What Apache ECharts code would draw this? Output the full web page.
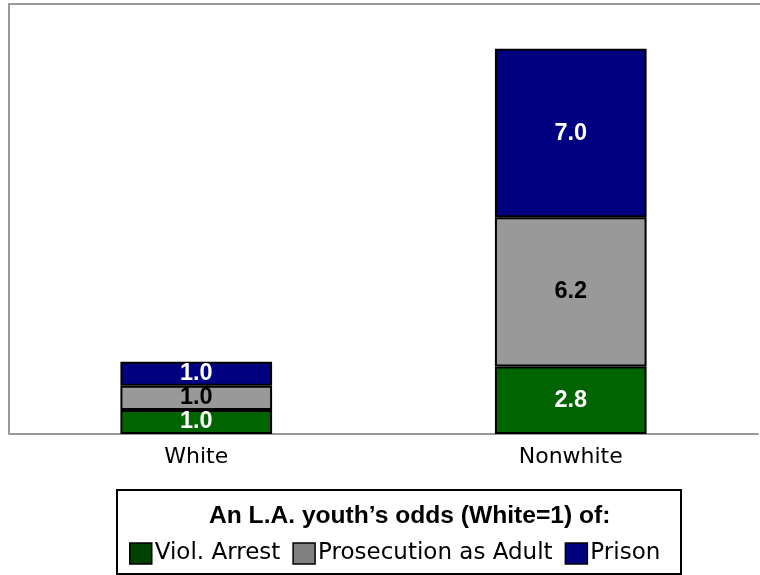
<!DOCTYPE html>
<html><head><meta charset="utf-8">
<script src="https://cdn.jsdelivr.net/npm/echarts@6/dist/echarts.min.js"></script>
<style>html,body{margin:0;padding:0;background:#fff}#c{width:760px;height:575px}</style>
</head><body><div id="c"></div>
<script>
const categories = ['White', 'Nonwhite'];
const violArrest = [1.0, 2.8];
const prosecution = [1.0, 6.2];
const prison = [1.0, 7.0];
const seriesNames = ['Viol. Arrest', 'Prosecution as Adult', 'Prison'];
const legendTitle = 'An L.A. youth\u2019s odds (White=1) of:';

const BOLD = '"Liberation Sans", Arial, sans-serif';
const REG = '"DejaVu Sans", Verdana, sans-serif';
const colors = ['#006400', '#999999', '#000080'];
const legendColors = ['#004000', '#808080', '#000080'];
const labelColors = ['#ffffff', '#000000', '#ffffff'];
const datasets = [violArrest, prosecution, prison];

const chart = echarts.init(document.getElementById('c'));
chart.setOption({
  animation: false,
  title: {
    text: legendTitle, left: 204, top: 499,
    textStyle: {fontFamily: BOLD, fontSize: 24.6, fontWeight: 'bold', color: '#000'}
  },
  legend: {
    data: seriesNames.map((n, i) => ({name: n, itemStyle: {color: legendColors[i], borderColor: '#000', borderWidth: 1.5}})),
    left: 129, top: 542, padding: 0, itemWidth: 22, itemHeight: 21, itemGap: 12,
    icon: 'rect',
    textStyle: {fontFamily: REG, fontSize: 23, color: '#000', padding: [0, 0, 0, -2]}
  },
  graphic: [
    {type: 'rect', shape: {x: 117, y: 490, width: 564, height: 84},
     style: {fill: 'none', stroke: '#000', lineWidth: 2}, silent: true},
    {type: 'line', shape: {x1: 8, y1: 4, x2: 760, y2: 4}, style: {stroke: '#999', lineWidth: 2}, silent: true},
    {type: 'line', shape: {x1: 9, y1: 3, x2: 9, y2: 434}, style: {stroke: '#999', lineWidth: 2}, silent: true}
  ],
  grid: {left: 9, right: 2, top: 3, height: 431, show: false},
  xAxis: {
    type: 'category', data: categories,
    axisLine: {show: true, lineStyle: {color: '#999', width: 2}},
    axisTick: {show: false},
    axisLabel: {fontFamily: REG, fontSize: 22, color: '#000', margin: 12}
  },
  yAxis: {type: 'value', min: 0, max: 17.9, show: false, splitLine: {show: false}},
  series: datasets.map((d, i) => ({
    name: seriesNames[i], type: 'bar', stack: 'total', data: d, barWidth: '40.5%',
    itemStyle: {color: colors[i], borderColor: '#000', borderWidth: 2},
    label: {show: true, position: 'inside', formatter: p => p.value.toFixed(1),
      fontFamily: BOLD, fontSize: 23.5, fontWeight: 'bold', color: labelColors[i]}
  }))
});
</script></body></html>
